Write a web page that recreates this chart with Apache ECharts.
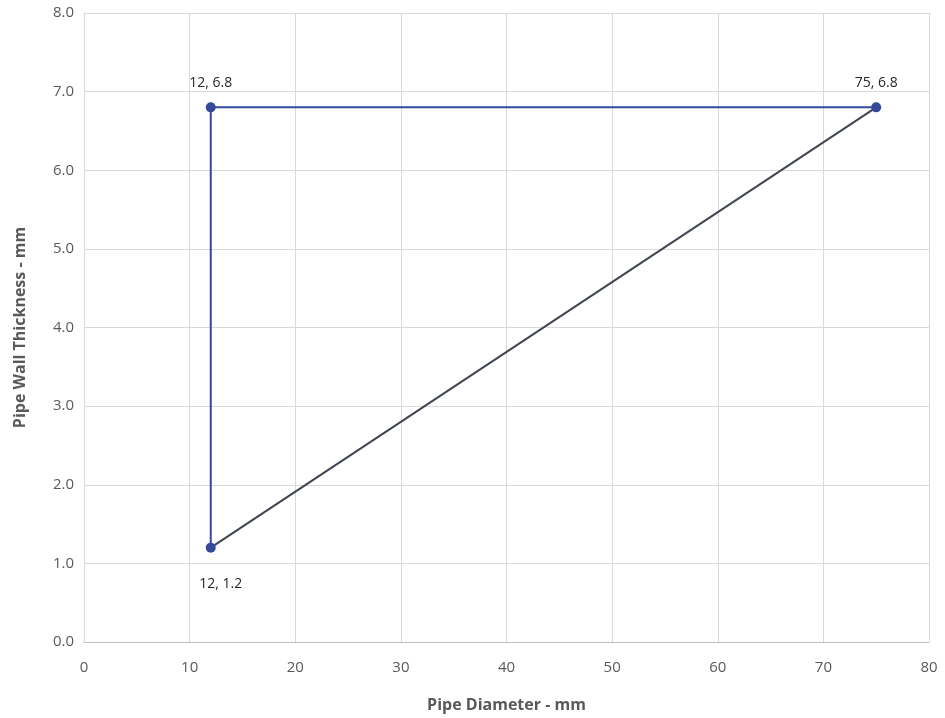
<!DOCTYPE html>
<html><head><meta charset="utf-8">
<script src="https://cdn.jsdelivr.net/npm/echarts@6/dist/echarts.min.js"></script>
<style>html,body{margin:0;padding:0;background:#fff}#c{width:945px;height:718px}</style>
</head><body><div id="c"></div>
<script>
var outlinePoints = [[12, 1.2], [12, 6.8], [75, 6.8]];
var diagonalPoints = [[12, 1.2], [75, 6.8]];
var pointLabels = ['12, 1.2', '12, 6.8', '75, 6.8'];
var labelPositions = ['bottom', 'top', 'top'];

var labelDistances = [24, 12, 12];
var labelOffsets = [[10, 0], [0, 0], [0, 0]];

var chart = echarts.init(document.getElementById('c'));
var font = '"Open Sans", "Noto Sans", sans-serif';
chart.setOption({
  animation: false,
  grid: {left: 84, right: 16, top: 13, bottom: 75},
  xAxis: {
    type: 'value', min: 0, max: 80, interval: 10,
    name: 'Pipe Diameter - mm', nameLocation: 'middle', nameGap: 55,
    nameTextStyle: {fontFamily: font, fontSize: 16, fontWeight: 'bold', color: '#595959'},
    axisLine: {show: true, lineStyle: {color: '#BFBFBF'}},
    axisTick: {show: false},
    axisLabel: {fontFamily: font, fontSize: 15, color: '#595959', margin: 18},
    splitLine: {show: true, lineStyle: {color: '#D9D9D9'}}
  },
  yAxis: {
    type: 'value', min: 0, max: 8, interval: 1,
    name: 'Pipe Wall Thickness - mm', nameLocation: 'middle', nameGap: 56,
    nameTextStyle: {fontFamily: font, fontSize: 16, fontWeight: 'bold', color: '#595959'},
    axisLine: {show: true, lineStyle: {color: '#D9D9D9'}},
    axisTick: {show: false},
    axisLabel: {fontFamily: font, fontSize: 15, color: '#595959', margin: 10,
      formatter: function (v) { return v.toFixed(1); }},
    splitLine: {show: true, lineStyle: {color: '#D9D9D9'}}
  },
  series: [
    {
      type: 'line', data: diagonalPoints, symbol: 'none', z: 2,
      lineStyle: {color: '#404552', width: 2}
    },
    {
      type: 'line', z: 3,
      data: outlinePoints.map(function (p, i) {
        return {value: p, label: {show: true, position: labelPositions[i], formatter: pointLabels[i],
          distance: labelDistances[i], offset: labelOffsets[i]}};
      }),
      symbol: 'circle', symbolSize: 10,
      itemStyle: {color: '#34499A'},
      lineStyle: {color: '#34499A', width: 2},
      label: {fontFamily: font, fontSize: 14, color: '#262626'}
    }
  ]
});
</script></body></html>
